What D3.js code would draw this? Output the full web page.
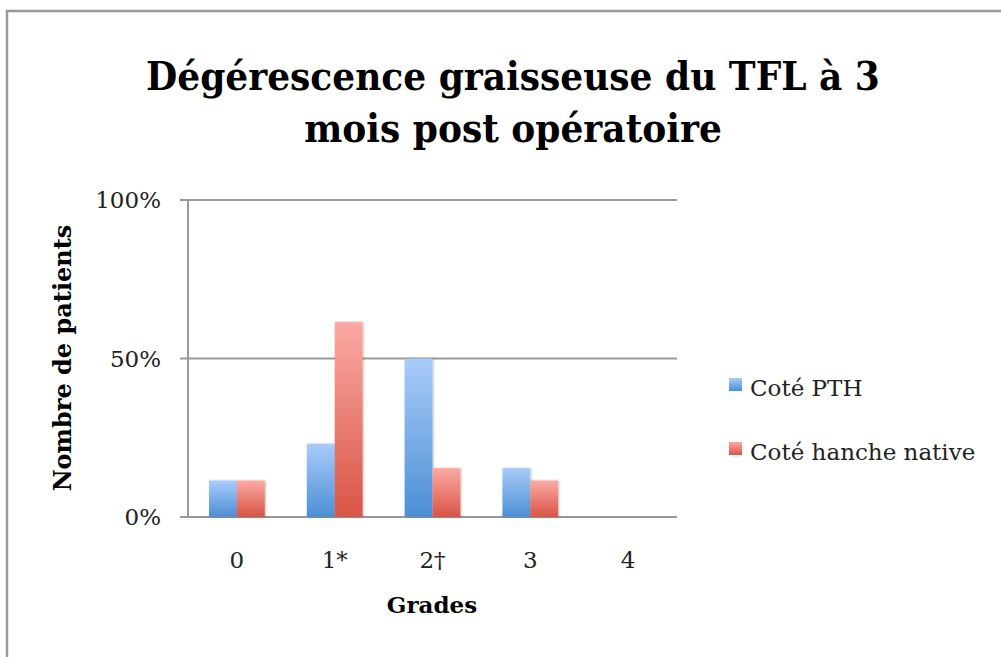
<!DOCTYPE html>
<html>
  <head>
    <meta charset="utf-8">
    <script type="text/javascript" src="https://cdn.jsdelivr.net/npm/d3@7"></script>
    <style>
      body { margin: 0; background: #fff; }
      text { font-family: "DejaVu Serif", serif; }
      .title { font-family: "DejaVu Serif Condensed", "DejaVu Serif", serif; }
    </style>
  </head>
  <body>
    <script type="text/javascript">
    // data
    var grades = ["0", "1*", "2\u2020", "3", "4"];
    var seriesNames = ["Coté PTH", "Coté hanche native"];
    var pthValues = [11.5, 23.1, 50, 15.4, 0];
    var nativeValues = [11.5, 61.5, 15.4, 11.5, 0];
    var yTicks = [0, 50, 100];

    var W = 1001, H = 657;
    var plotLeft = 188, plotRight = 677, plotTop = 200, plotBottom = 517;

    var svg = d3.select('body').append('svg')
                .attr('width', W)
                .attr('height', H);

    // gradients for bars
    var defs = svg.append('defs');
    var grads = [
        {id: 'gBlue', top: '#a9cbfa', bot: '#4b8fd4'},
        {id: 'gRed', top: '#fbaaa4', bot: '#d95446'}
    ];
    grads.forEach(function(g) {
        var lg = defs.append('linearGradient').attr('id', g.id)
                     .attr('x1', 0).attr('y1', 0).attr('x2', 0).attr('y2', 1);
        lg.append('stop').attr('offset', '0%').attr('stop-color', g.top);
        lg.append('stop').attr('offset', '100%').attr('stop-color', g.bot);
    });
    var sh = defs.append('filter').attr('id', 'shadow')
                 .attr('x', '-20%').attr('y', '-5%').attr('width', '140%').attr('height', '110%');
    sh.append('feDropShadow').attr('dx', 1).attr('dy', 0).attr('stdDeviation', 1.2)
      .attr('flood-color', '#000').attr('flood-opacity', 0.25);

    // outer frame
    svg.append('path')
       .attr('d', 'M7,' + H + 'V11H' + W)
       .attr('fill', 'none')
       .attr('stroke', '#9a9a9a')
       .attr('stroke-width', 2.5);

    var x = d3.scaleBand().domain(grades).range([plotLeft, plotRight])
              .paddingInner(0.43).paddingOuter(0.215);
    var xs = d3.scaleBand().domain([0, 1]).range([0, x.bandwidth()]);
    var y = d3.scaleLinear().domain([0, 100]).range([plotBottom, plotTop]);

    // gridlines
    svg.append('g').selectAll('line')
       .data(yTicks).enter().append('line')
       .attr('x1', plotLeft - 8).attr('x2', plotRight)
       .attr('y1', function(d) { return y(d); })
       .attr('y2', function(d) { return y(d); })
       .attr('stroke', '#999').attr('stroke-width', 2);

    svg.append('line')
       .attr('x1', plotLeft).attr('x2', plotLeft)
       .attr('y1', plotTop).attr('y2', plotBottom)
       .attr('stroke', '#999').attr('stroke-width', 2);

    // y labels
    svg.append('g').selectAll('text')
       .data(yTicks).enter().append('text')
       .attr('x', 161).attr('y', function(d) { return y(d) + 8; })
       .attr('text-anchor', 'end')
       .style('font-size', '23px').style('fill', '#222')
       .text(function(d) { return d + '%'; });

    // bars
    var series = [pthValues, nativeValues];
    var fills = ['url(#gBlue)', 'url(#gRed)'];
    series.forEach(function(vals, si) {
        svg.append('g').selectAll('rect')
           .data(vals).enter().append('rect')
           .attr('x', function(d, i) { return x(grades[i]) + xs(si); })
           .attr('y', function(d) { return y(d); })
           .attr('width', xs.bandwidth())
           .attr('height', function(d) { return plotBottom - y(d); })
           .attr('fill', fills[si])
           .attr('filter', 'url(#shadow)');
    });

    // x labels
    svg.append('g').selectAll('text')
       .data(grades).enter().append('text')
       .attr('x', function(d) { return x(d) + x.bandwidth() / 2; })
       .attr('y', 568)
       .attr('text-anchor', 'middle')
       .style('font-size', '23px').style('fill', '#222')
       .text(function(d) { return d; });

    // axis titles
    svg.append('text')
       .attr('x', 432).attr('y', 613)
       .attr('text-anchor', 'middle')
       .style('font-size', '23px').style('font-weight', 'bold')
       .text('Grades');

    svg.append('text')
       .attr('transform', 'translate(71,358) rotate(-90)')
       .attr('text-anchor', 'middle')
       .style('font-size', '24px').style('font-weight', 'bold')
       .text('Nombre de patients');

    // title
    var title = svg.append('text')
                   .attr('class', 'title')
                   .attr('text-anchor', 'middle')
                   .style('font-size', '40px').style('font-weight', 'bold');
    title.append('tspan').attr('x', 513).attr('y', 90).text('Dégérescence graisseuse du TFL à 3');
    title.append('tspan').attr('x', 513).attr('y', 142).text('mois post opératoire');

    // legend
    var legend = svg.append('g').selectAll('g')
                    .data(seriesNames).enter().append('g')
                    .attr('transform', function(d, i) { return 'translate(729,' + (378 + i * 64) + ')'; });
    legend.append('rect')
          .attr('width', 13).attr('height', 13)
          .attr('fill', function(d, i) { return fills[i]; });
    legend.append('text')
          .attr('x', 21).attr('y', 18)
          .style('font-size', '23px').style('fill', '#222')
          .text(function(d) { return d; });
    </script>
  </body>
</html>
